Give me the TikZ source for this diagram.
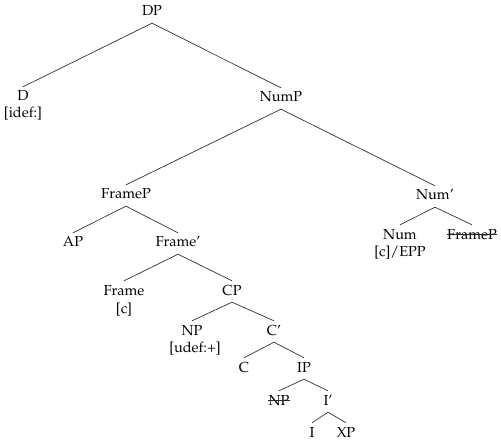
\documentclass[tikz,border=0pt]{standalone}
\usepackage[T1]{fontenc}
\usepackage{mathpazo}
\begin{document}
\begin{tikzpicture}[
  x=1pt, y=-1pt,
  cat/.style={anchor=base, inner sep=0pt, text height=14pt, text depth=7pt, font=\fontsize{14.5}{17}\selectfont},
  feat/.style={anchor=base, inner sep=0pt, font=\fontsize{14.5}{17}\selectfont},
  branch/.style={line width=0.65pt, black!85}
]
  \useasboundingbox (0,0) rectangle (501,441);

  \node[cat] (dp) at (152, 16) {DP};
  \node[cat] (d) at (23, 101) {D};
  \node[feat] (dfeat) at (23, 118) {[idef:]};
  \node[cat] (nump) at (281, 102) {NumP};

  \node[cat] (framep) at (126, 199) {FrameP};
  \node[cat] (numbar) at (435, 200) {Num'};
  \node[cat] (ap) at (73, 247) {AP};
  \node[cat] (framebar) at (178, 247) {Frame'};
  \node[cat] (num) at (400, 239) {Num};
  \node[feat] (numfeat) at (400, 256) {[c]/EPP};
  \node[cat] (framepcopy) at (472, 239) {FrameP};

  \node[cat] (frame) at (124, 295) {Frame};
  \node[feat] (framefeat) at (124, 313) {[c]};
  \node[cat] (cp) at (232, 295) {CP};
  \node[cat] (np) at (192, 335) {NP};
  \node[feat] (npfeat) at (195, 352) {[udef:+]};
  \node[cat] (cbar) at (274, 335) {C'};
  \node[cat] (c) at (244, 372) {C};
  \node[cat] (ip) at (304, 372) {IP};
  \node[cat] (npcopy) at (279, 405) {NP};
  \node[cat] (ibar) at (328, 405) {I'};
  \node[cat] (i) at (312, 437) {I};
  \node[cat] (xp) at (346, 437) {XP};

  % struck-out copies
  \draw[branch] ([yshift=4.5pt]framepcopy.base west) -- ([yshift=4.5pt]framepcopy.base east);
  \draw[branch] ([yshift=4.5pt]npcopy.base west) -- ([yshift=4.5pt]npcopy.base east);

  \draw[branch] (dp.south) -- (d.north);
  \draw[branch] (dp.south) -- (nump.north);
  \draw[branch] (nump.south) -- (framep.north);
  \draw[branch] (nump.south) -- (numbar.north);
  \draw[branch] (framep.south) -- (ap.north);
  \draw[branch] (framep.south) -- (framebar.north);
  \draw[branch] (numbar.south) -- (num.north);
  \draw[branch] (numbar.south) -- (framepcopy.north);
  \draw[branch] (framebar.south) -- (frame.north);
  \draw[branch] (framebar.south) -- (cp.north);
  \draw[branch] (cp.south) -- (np.north);
  \draw[branch] (cp.south) -- (cbar.north);
  \draw[branch] (cbar.south) -- (c.north);
  \draw[branch] (cbar.south) -- (ip.north);
  \draw[branch] (ip.south) -- (npcopy.north);
  \draw[branch] (ip.south) -- (ibar.north);
  \draw[branch] (ibar.south) -- (i.north);
  \draw[branch] (ibar.south) -- (xp.north);
\end{tikzpicture}
\end{document}
